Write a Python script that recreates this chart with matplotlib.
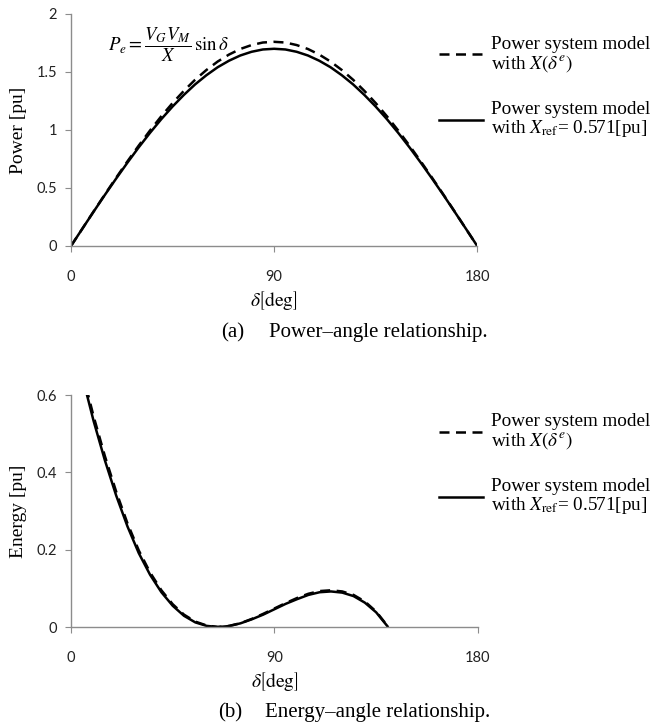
import matplotlib
matplotlib.use("Agg")
import matplotlib.pyplot as plt

plt.rcParams['mathtext.fontset'] = 'stix'

# power-angle curves, every 5 deg
delta_p = [0, 5, 10, 15, 20, 25, 30, 35, 40, 45, 50, 55, 60, 65, 70, 75, 80, 85, 90,
           95, 100, 105, 110, 115, 120, 125, 130, 135, 140, 145, 150, 155, 160, 165, 170, 175, 180]
power_x_delta = [0, 0.148, 0.297, 0.444, 0.588, 0.729, 0.865, 0.995, 1.118, 1.232,
                 1.337, 1.433, 1.517, 1.590, 1.650, 1.698, 1.732, 1.754, 1.760,
                 1.754, 1.732, 1.698, 1.650, 1.590, 1.517, 1.433, 1.337, 1.232,
                 1.118, 0.995, 0.865, 0.729, 0.588, 0.444, 0.297, 0.148, 0]
power_x_ref = [0, 0.148, 0.295, 0.440, 0.581, 0.718, 0.850, 0.975, 1.093, 1.202,
               1.302, 1.393, 1.472, 1.541, 1.597, 1.642, 1.674, 1.694, 1.700,
               1.694, 1.674, 1.642, 1.597, 1.541, 1.472, 1.393, 1.302, 1.202,
               1.093, 0.975, 0.850, 0.718, 0.581, 0.440, 0.295, 0.148, 0]

# energy-angle curves
delta_e = [5, 10, 15, 20, 25, 30, 35, 40, 45, 50, 55, 60, 65, 70, 75, 80, 85, 90,
           95, 100, 105, 110, 115, 120, 125, 130, 135, 140]
energy_x_delta = [0.66, 0.545, 0.442, 0.350, 0.268, 0.198, 0.141, 0.095, 0.059, 0.032,
                  0.014, 0.004, 0.0, 0.003, 0.010, 0.021, 0.034, 0.048, 0.062, 0.075,
                  0.086, 0.093, 0.095, 0.092, 0.083, 0.066, 0.040, 0.003]
energy_x_ref = [0.648, 0.533, 0.431, 0.340, 0.260, 0.191, 0.135, 0.090, 0.055, 0.029,
                0.012, 0.003, 0.0, 0.0025, 0.0096, 0.020, 0.032, 0.046, 0.060, 0.072,
                0.083, 0.090, 0.092, 0.089, 0.080, 0.063, 0.038, 0.002]

x_ticks = [0, 90, 180]
power_ticks = [0, 0.5, 1, 1.5, 2]
energy_ticks = [0, 0.2, 0.4, 0.6]
lab1 = 'Power system model\nwith $X(\\delta^e)$'
lab2 = 'Power system model\nwith $X_{\\mathrm{ref}}$= 0.571[pu]'

gray = '#8c8c8c'
serif = 'Liberation Serif'
tickfont = 'Lato'
dash = (0, (4, 2.6))

fig = plt.figure(figsize=(6.5, 7.28), dpi=100)
ax1 = fig.add_axes([0.1092, 0.6621, 0.6250, 0.3187])
ax2 = fig.add_axes([0.1092, 0.1387, 0.6260, 0.3187])


def style(ax, yticks):
    for s in ['top', 'right']:
        ax.spines[s].set_visible(False)
    for s in ['left', 'bottom']:
        ax.spines[s].set_color(gray)
        ax.spines[s].set_linewidth(1.0)
    ax.set_xlim(0, 180)
    ax.set_xticks(x_ticks)
    ax.set_yticks(yticks)
    ax.set_yticklabels([('%g' % v) for v in yticks])
    ax.set_ylim(yticks[0], yticks[-1])
    ax.tick_params(axis='both', direction='out', length=4, color=gray,
                   labelsize=10.5, labelcolor='#222222')
    ax.tick_params(axis='y', pad=6)
    ax.tick_params(axis='x', pad=13)
    for t in ax.get_xticklabels() + ax.get_yticklabels():
        t.set_fontfamily(tickfont)


def add_legend(ax, ytop):
    leg = ax.legend(loc='upper left', bbox_to_anchor=(0.6754, ytop),
                    bbox_transform=fig.transFigure, frameon=False,
                    prop={'family': serif, 'size': 13.8}, handlelength=2.3,
                    handletextpad=0.42, labelspacing=1.43,
                    borderpad=0, borderaxespad=0)
    for t in leg.get_texts():
        t.set_linespacing(1.0)
    return leg


# (a) power
ax1.plot(delta_p, power_x_delta, color='black', lw=1.8, ls=dash, label=lab1)
ax1.plot(delta_p, power_x_ref, color='black', lw=1.8, label=lab2)
style(ax1, power_ticks)
ax1.set_ylabel('Power [pu]', fontfamily=serif, fontsize=14, labelpad=7)
ax1.set_xlabel('$\\delta\\left[\\mathrm{deg}\\right]$', fontsize=14, labelpad=4)
ax1.text(0.091, 0.866, '$P_e=\\dfrac{V_G V_M}{X}\\,\\sin\\delta$', transform=ax1.transAxes,
         fontsize=13.5, va='center')
add_legend(ax1, 0.951)

# (b) energy
ax2.plot(delta_e, energy_x_delta, color='black', lw=1.8, ls=dash, label=lab1)
ax2.plot(delta_e, energy_x_ref, color='black', lw=1.8, label=lab2)
style(ax2, energy_ticks)
ax2.set_ylabel('Energy [pu]', fontfamily=serif, fontsize=14, labelpad=7)
ax2.set_xlabel('$\\delta\\left[\\mathrm{deg}\\right]$', fontsize=14, labelpad=4)
add_legend(ax2, 0.4325)

fig.text(221 / 650, 1 - 333 / 728, '(a)', fontfamily=serif, fontsize=15, va='center')
fig.text(269 / 650, 1 - 333 / 728, 'Power\u2013angle relationship.', fontfamily=serif,
         fontsize=15, va='center')
fig.text(218 / 650, 1 - 713 / 728, '(b)', fontfamily=serif, fontsize=15, va='center')
fig.text(265 / 650, 1 - 713 / 728, 'Energy\u2013angle relationship.', fontfamily=serif,
         fontsize=15, va='center')

fig.savefig('out.png', dpi=100)
